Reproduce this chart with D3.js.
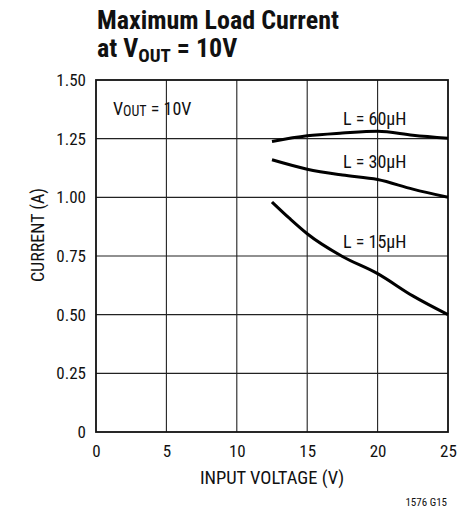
<!DOCTYPE html>
<html><head><meta charset="utf-8">
<script src="https://cdn.jsdelivr.net/npm/d3@7"></script>
<style>
body{margin:0;background:#fff;}
svg{display:block;}
text{font-family:"Liberation Sans Narrow","Roboto Condensed","Arial Narrow",sans-serif;fill:#111;}
</style></head><body>
<svg id="c" width="474" height="514"></svg>
<script>
const xTicks = [0, 5, 10, 15, 20, 25];
const yTicks = [0, 0.25, 0.5, 0.75, 1.0, 1.25, 1.5];
const yTickLabels = ["0", "0.25", "0.50", "0.75", "1.00", "1.25", "1.50"];
const vin = [12.5, 15, 17.5, 20, 22.5, 25];
const l60 = [1.238, 1.262, 1.274, 1.282, 1.265, 1.252];
const l30 = [1.16, 1.12, 1.095, 1.076, 1.035, 1.0];
const vin15 = [12.5, 13.75, 15, 17.5, 20, 22.5, 25];
const l15 = [0.98, 0.91, 0.845, 0.748, 0.675, 0.58, 0.50];
const seriesNames = ["L = 60µH", "L = 30µH", "L = 15µH"];

const svg = d3.select("#c");
const m = {l: 96, r: 448, t: 80, b: 432};
const x = d3.scaleLinear().domain([0, 25]).range([m.l, m.r]);
const y = d3.scaleLinear().domain([0, 1.5]).range([m.b, m.t]);

// grid
svg.append("g").selectAll("line").data(xTicks.slice(1, -1)).join("line")
  .attr("x1", d => x(d)).attr("x2", d => x(d)).attr("y1", m.t).attr("y2", m.b)
  .attr("stroke", "#222").attr("stroke-width", 1.1);
svg.append("g").selectAll("line").data(yTicks.slice(1, -1)).join("line")
  .attr("y1", d => y(d)).attr("y2", d => y(d)).attr("x1", m.l).attr("x2", m.r)
  .attr("stroke", "#222").attr("stroke-width", 1.1);
svg.append("rect").attr("x", m.l).attr("y", m.t).attr("width", m.r - m.l).attr("height", m.b - m.t)
  .attr("fill", "none").attr("stroke", "#111").attr("stroke-width", 1.8);

// axes labels via d3 axes
const xa = svg.append("g").attr("transform", `translate(0,${m.b})`)
  .call(d3.axisBottom(x).tickValues(xTicks).tickSize(0).tickPadding(13).tickFormat(d3.format("d")));
xa.select(".domain").remove();
xa.selectAll("text").attr("font-size", 17).attr("font-family", null).attr("fill", "#111");
const ya = svg.append("g").attr("transform", `translate(${m.l},0)`)
  .call(d3.axisLeft(y).tickValues(yTicks).tickSize(0).tickPadding(10).tickFormat((d, i) => yTickLabels[i]));
ya.select(".domain").remove();
ya.selectAll("text").attr("font-size", 17).attr("font-family", null).attr("fill", "#111");

svg.append("text").attr("x", 272).attr("y", 484).attr("text-anchor", "middle")
  .attr("font-size", 18.5).text("INPUT VOLTAGE (V)");
svg.append("text").attr("transform", "translate(44,235) rotate(-90)").attr("text-anchor", "middle")
  .attr("font-size", 18).text("CURRENT (A)");

// curves
const line = d3.line().curve(d3.curveMonotoneX);
[[vin, l60], [vin, l30], [vin15, l15]].forEach(([xs, s]) => {
  svg.append("path").attr("d", line(s.map((v, i) => [x(xs[i]), y(v)])))
    .attr("fill", "none").attr("stroke", "#000")
    .attr("stroke-width", 3).attr("stroke-linecap", "butt");
});
const labelPos = [[19.8, 1.31], [19.8, 1.125], [19.8, 0.785]];
seriesNames.forEach((n, i) => {
  svg.append("text").attr("x", x(labelPos[i][0])).attr("y", y(labelPos[i][1]))
    .attr("text-anchor", "middle").attr("font-size", 18).text(n);
});
// VOUT label
const vt = svg.append("text").attr("x", 113).attr("y", 115).attr("font-size", 18);
vt.append("tspan").text("V");
vt.append("tspan").attr("font-size", 14).attr("dy", 1).text("OUT");
vt.append("tspan").attr("dy", -1).text(" = 10V");

// title
svg.append("text").attr("x", 97).attr("y", 29).attr("font-size", 26).attr("font-weight", "bold").text("Maximum Load Current");
const t2 = svg.append("text").attr("x", 97).attr("y", 57).attr("font-size", 26).attr("font-weight", "bold");
t2.append("tspan").text("at V");
t2.append("tspan").attr("font-size", 19).attr("dy", 5).text("OUT");
t2.append("tspan").attr("dy", -5).text(" = 10V");

svg.append("text").attr("x", 447).attr("y", 506).attr("text-anchor", "end").attr("font-size", 11).text("1576 G15");
</script></body></html>
